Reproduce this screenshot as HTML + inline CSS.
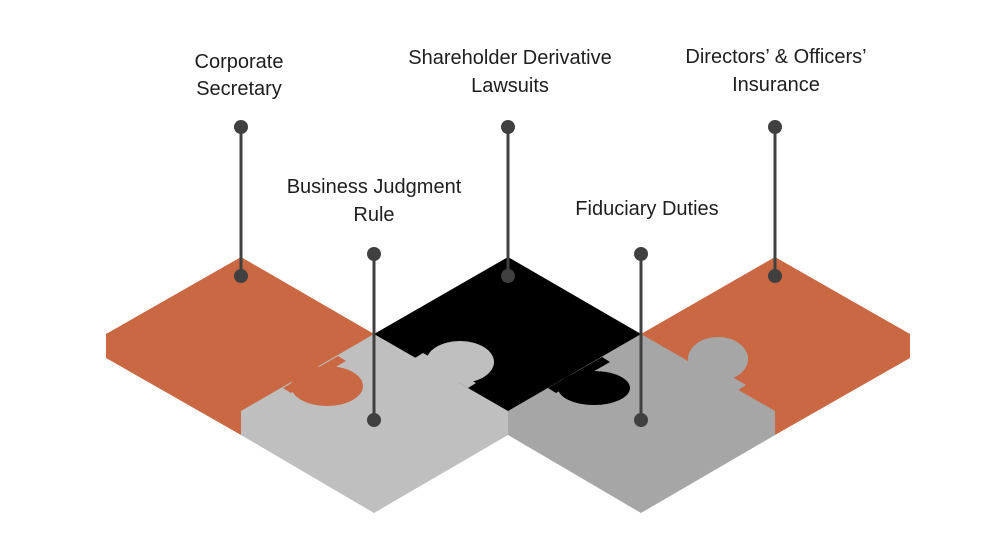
<!DOCTYPE html>
<html><head><meta charset="utf-8"><style>
html,body{margin:0;padding:0;background:#fff;}
svg{display:block;}
text{font-family:"Liberation Sans",sans-serif;font-size:20px;fill:#1e1e1e;text-anchor:middle;}
</style></head><body>
<svg width="1000" height="546" viewBox="0 0 1000 546" xmlns="http://www.w3.org/2000/svg">
<polygon fill="#C96843" points="241,257 374,334 374,358 241,435 106,358 106,334"/>
<polygon fill="#000000" points="508,257 641,334 641,358 508,435 374,358 374,334"/>
<polygon fill="#C96843" points="775,257 910,334 910,358 775,435 641,358 641,334"/>
<polygon fill="#BFBFBF" points="374,334 508,411 508,435 374,513 241,435 241,411"/>
<polygon fill="#A6A6A6" points="641,334 775,411 775,435 641,513 508,435 508,411"/>
<polygon fill="#C96843" points="338,356 283,388 291,393 346,361"/>
<ellipse fill="#C96843" cx="327" cy="386" rx="36" ry="20"/>
<polygon fill="#BFBFBF" points="415,358 468,388 476,383 423,353"/>
<ellipse fill="#BFBFBF" cx="460" cy="362" rx="34" ry="21"/>
<polygon fill="#000000" points="548,388 602,357 610,362 556,393"/>
<ellipse fill="#000000" cx="594" cy="388" rx="36" ry="17"/>
<polygon fill="#A6A6A6" points="688,361 738,390 746,385 696,356"/>
<ellipse fill="#A6A6A6" cx="718" cy="359" rx="30" ry="22"/>
<g stroke="#404040" stroke-width="3" fill="#404040">
<line x1="241" y1="127" x2="241" y2="276"/><circle cx="241" cy="127" r="5.5"/><circle cx="241" cy="276" r="5.5"/>
<line x1="374" y1="254" x2="374" y2="420"/><circle cx="374" cy="254" r="5.5"/><circle cx="374" cy="420" r="5.5"/>
<line x1="508" y1="127" x2="508" y2="276"/><circle cx="508" cy="127" r="5.5"/><circle cx="508" cy="276" r="5.5"/>
<line x1="641" y1="254" x2="641" y2="420"/><circle cx="641" cy="254" r="5.5"/><circle cx="641" cy="420" r="5.5"/>
<line x1="775" y1="127" x2="775" y2="276"/><circle cx="775" cy="127" r="5.5"/><circle cx="775" cy="276" r="5.5"/>
</g>
<text x="239" y="68">Corporate</text>
<text x="239" y="95">Secretary</text>
<text x="510" y="64">Shareholder Derivative</text>
<text x="510" y="92">Lawsuits</text>
<text x="776" y="63">Directors’ &amp; Officers’</text>
<text x="776" y="91">Insurance</text>
<text x="374" y="193">Business Judgment</text>
<text x="374" y="221">Rule</text>
<text x="647" y="215">Fiduciary Duties</text>
</svg>
</body></html>
